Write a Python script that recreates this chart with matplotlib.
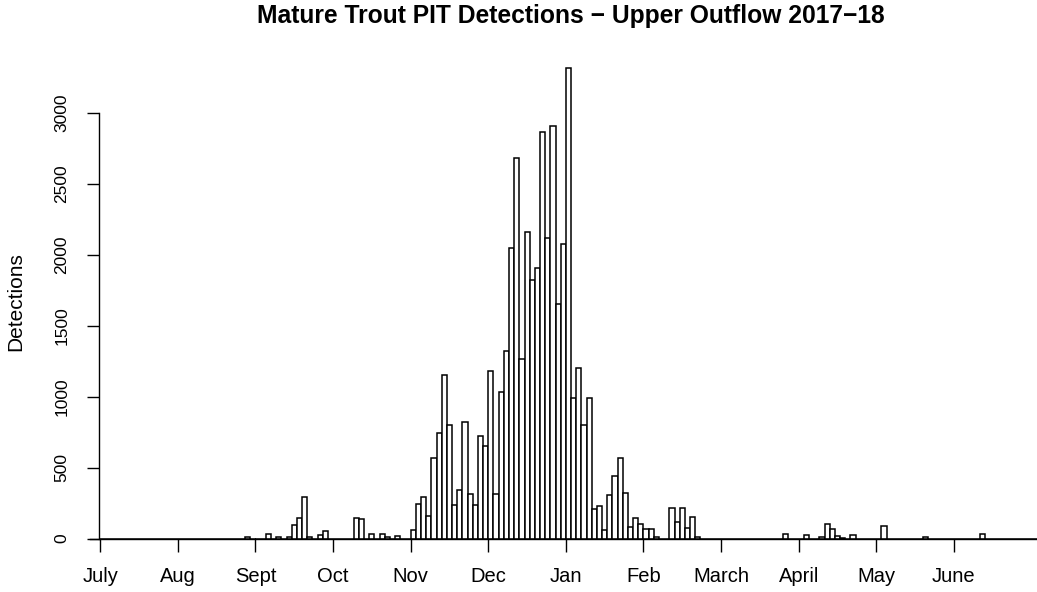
import matplotlib
matplotlib.use("Agg")
import matplotlib.pyplot as plt
import numpy as np

plt.rcParams['font.family'] = ['Liberation Sans', 'DejaVu Sans']

# Month labels (15 bins of ~2 days per month tick)
months = ["July", "Aug", "Sept", "Oct", "Nov", "Dec", "Jan", "Feb",
          "March", "April", "May", "June"]
bins_per_month = 15

# Detection counts per bin, one row per month
jul = [0] * 15
aug = [0, 0, 0, 0, 0, 0, 0, 0, 0, 0, 0, 0, 0, 8, 0]
sep = [0, 0, 30, 0, 12, 0, 14, 94, 141, 294, 14, 0, 23, 54, 0]
oct_ = [0, 0, 0, 0, 145, 138, 0, 33, 0, 35, 10, 0, 19, 0, 0]
nov = [60, 243, 295, 161, 570, 742, 1150, 798, 234, 342, 819, 312, 238, 725, 652]
dec = [1181, 312, 1031, 1324, 2050, 2680, 1263, 2161, 1820, 1905, 2868, 2121, 2908, 1655, 2074]
jan = [3319, 993, 1200, 798, 993, 206, 227, 60, 305, 440, 570, 321, 83, 145, 104]
feb = [69, 69, 12, 0, 0, 217, 114, 217, 72, 152, 10, 0, 0, 0, 0]
mar = [0, 0, 0, 0, 0, 0, 0, 0, 0, 0, 0, 0, 30, 0, 0]
apr = [0, 24, 0, 0, 14, 103, 68, 16, 7, 0, 24, 0, 0, 0, 0]
may = [0, 87, 0, 0, 0, 0, 0, 0, 0, 14, 0, 0, 0, 0, 0]
jun = [0, 0, 0, 0, 0, 30, 0, 0, 0, 0, 0, 0, 0, 0, 0]
tail = [0]

counts = jul + aug + sep + oct_ + nov + dec + jan + feb + mar + apr + may + jun + tail
yticks = [0, 500, 1000, 1500, 2000, 2500, 3000]

W, H = 1037, 592
fig = plt.figure(figsize=(W / 100, H / 100), dpi=100)
left_px, right_px, top_px, base_px = 99.3, 1037, 60, 538.5
ax = fig.add_axes([left_px / W, 1 - base_px / H,
                   (right_px - left_px) / W, (base_px - top_px) / H])

x0_px, bw_px = 100.3, 77.6 / 15
px_per_unit = 425.7 / 3000
ax.set_xlim((left_px - x0_px) / bw_px, (right_px - x0_px) / bw_px)
ax.set_ylim(0, (base_px - top_px) / px_per_unit)

idx = np.arange(len(counts))
ax.bar(idx, counts, width=1, align='edge', facecolor='white',
       edgecolor='black', linewidth=1.1, clip_on=False)

for s in ['top', 'right']:
    ax.spines[s].set_visible(False)
ax.spines['left'].set_bounds(0, 3000)
ax.spines['bottom'].set_bounds(-1.9, len(counts))
ax.spines['left'].set_linewidth(1.0)
ax.spines['bottom'].set_linewidth(1.0)

ax.set_xticks([m * bins_per_month for m in range(len(months))])
ax.set_xticklabels(months, fontsize=14.5)
ax.tick_params(axis='x', direction='out', length=9.6, width=1.0, pad=11)
ax.set_yticks(yticks)
ax.set_yticklabels([str(v) for v in yticks], fontsize=12.5, rotation=90,
                   va='center')
ax.tick_params(axis='y', direction='out', length=8.6, width=1.0, pad=13)

fig.text(16 / W, 1 - 302 / H, "Detections", rotation=90, fontsize=15,
         ha='center', va='center')
fig.text(571 / W, 1 - 16 / H,
         "Mature Trout PIT Detections \u2212 Upper Outflow 2017\u221218",
         fontsize=17.7, fontweight='bold', ha='center', va='center')

fig.savefig("out.png", dpi=100)
